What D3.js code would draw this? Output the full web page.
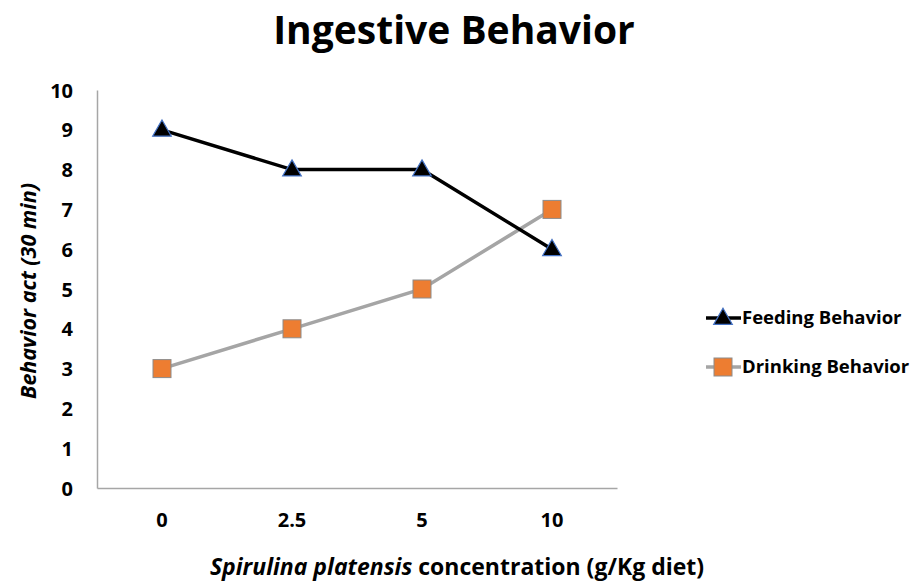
<!DOCTYPE html>
<html>
<head>
<meta charset="utf-8">
<script src="https://cdn.jsdelivr.net/npm/d3@7"></script>
<style>
  body { margin: 0; background: #fff; }
  text { font-family: "Open Sans", sans-serif; font-weight: bold; fill: #000; }
</style>
</head>
<body>
<div id="chart"></div>
<script>

// chart data
var categories = ["0", "2.5", "5", "10"];
var feeding = [9, 8, 8, 6];
var drinking = [3, 4, 5, 7];
var yTicks = [0, 1, 2, 3, 4, 5, 6, 7, 8, 9, 10];
var seriesNames = ["Feeding Behavior", "Drinking Behavior"];

var width = 911, height = 583;
var margin = { top: 90, left: 97, right: 294, bottom: 95 };

var svg = d3.select("#chart").append("svg")
    .attr("width", width)
    .attr("height", height);

var x = d3.scaleBand()
    .domain(categories)
    .range([margin.left, width - margin.right]);

var y = d3.scaleLinear()
    .domain([0, 10])
    .range([height - margin.bottom, margin.top]);

// title
svg.append("text")
    .attr("x", 454)
    .attr("y", 44)
    .attr("text-anchor", "middle")
    .style("font-size", "39px")
    .text("Ingestive Behavior");

// axes
var xAxis = svg.append("g")
    .attr("transform", "translate(0," + y(0) + ")")
    .call(d3.axisBottom(x).tickSize(0).tickPadding(25));
var yAxis = svg.append("g")
    .attr("transform", "translate(" + margin.left + ",0)")
    .call(d3.axisLeft(y).tickValues(yTicks).tickSize(0).tickPadding(24));

[xAxis, yAxis].forEach(function (g) {
    g.select(".domain").attr("stroke", "#a6a6a6").attr("stroke-width", 1.5);
    g.selectAll("text")
        .style("font-size", "20px")
        .style("font-family", "'Open Sans', sans-serif")
        .style("font-weight", "bold");
});
yAxis.selectAll("text").attr("dy", "0.35em");

// axis titles
var xt = svg.append("text")
    .attr("x", 457)
    .attr("y", 575)
    .attr("text-anchor", "middle")
    .style("font-size", "23px");
xt.append("tspan").style("font-style", "italic").text("Spirulina platensis");
xt.append("tspan").text(" concentration (g/Kg diet)");

svg.append("text")
    .attr("transform", "translate(36,291) rotate(-90)")
    .attr("text-anchor", "middle")
    .style("font-size", "21.5px")
    .style("font-style", "italic")
    .text("Behavior act (30 min)");

var line = d3.line()
    .x(function (d, i) { return x(categories[i]) + x.bandwidth() / 2; })
    .y(function (d) { return y(d); });

var tri = d3.symbol().type(d3.symbolTriangle).size(150);

function drawSeries(data, color, marker) {
    svg.append("path")
        .datum(data)
        .attr("fill", "none")
        .attr("stroke", color)
        .attr("stroke-width", 3.5)
        .attr("d", line);
    data.forEach(function (d, i) {
        marker(x(categories[i]) + x.bandwidth() / 2, y(d));
    });
}

function triangle(cx, cy) {
    svg.append("path")
        .attr("d", tri)
        .attr("transform", "translate(" + cx + "," + (cy + 1) + ")")
        .attr("fill", "#000")
        .attr("stroke", "#4472c4")
        .attr("stroke-width", 1.2);
}

function square(cx, cy) {
    svg.append("rect")
        .attr("x", cx - 9)
        .attr("y", cy - 9)
        .attr("width", 18)
        .attr("height", 18)
        .attr("fill", "#ed7d31")
        .attr("stroke", "#8c8c8c")
        .attr("stroke-width", 1);
}

drawSeries(drinking, "#a5a5a5", square);
drawSeries(feeding, "#000", triangle);

// legend
var legendY = [318, 367];
var legendColors = ["#000", "#a5a5a5"];
var legendMarkers = [triangle, square];
seriesNames.forEach(function (name, i) {
    svg.append("line")
        .attr("x1", 706).attr("x2", 741)
        .attr("y1", legendY[i]).attr("y2", legendY[i])
        .attr("stroke", legendColors[i])
        .attr("stroke-width", 3.5);
    legendMarkers[i](723, legendY[i]);
    svg.append("text")
        .attr("x", 742)
        .attr("y", legendY[i])
        .attr("dy", "0.35em")
        .style("font-size", "18.5px")
        .text(name);
});

</script>
</body>
</html>
